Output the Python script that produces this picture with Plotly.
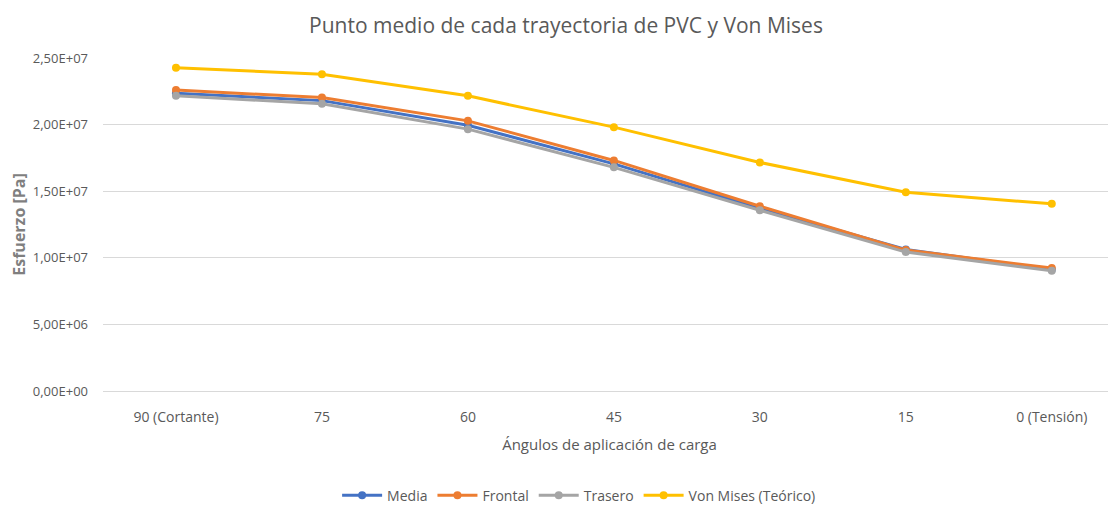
import plotly.graph_objects as go

# Categories (load angle) and stress values [Pa]
angulos = ["90 (Cortante)", "75", "60", "45", "30", "15", "0 (Tensión)"]
media = [22.35e6, 21.80e6, 19.95e6, 17.05e6, 13.72e6, 10.62e6, 9.12e6]
frontal = [22.60e6, 22.03e6, 20.28e6, 17.31e6, 13.87e6, 10.58e6, 9.23e6]
trasero = [22.16e6, 21.56e6, 19.66e6, 16.79e6, 13.57e6, 10.43e6, 9.03e6]
von_mises = [24.27e6, 23.78e6, 22.16e6, 19.81e6, 17.16e6, 14.92e6, 14.05e6]

y_ticks = [0, 5e6, 10e6, 15e6, 20e6, 25e6]
y_tick_labels = ["0,00E+00", "5,00E+06", "1,00E+07", "1,50E+07", "2,00E+07", "2,50E+07"]

series = [
    ("Media", media, "#4472C4"),
    ("Frontal", frontal, "#ED7D31"),
    ("Trasero", trasero, "#A5A5A5"),
    ("Von Mises (Teórico)", von_mises, "#FFC000"),
]

fig = go.Figure()
for name, vals, color in series:
    fig.add_trace(go.Scatter(x=angulos,
                             y=vals,
                             mode='lines+markers',
                             name=name,
                             line=dict(color=color, width=3),
                             marker=dict(color=color, size=8)))

# the page body adds an 8px offset, so margins are trimmed by 8px
font_family = "Open Sans, Liberation Sans, sans-serif"
fig.update_layout(
    width=1116, height=510,
    paper_bgcolor="white", plot_bgcolor="white",
    margin=dict(l=95, r=8, t=50, b=126),
    font=dict(family=font_family, color="#595959", size=13),
    title=dict(text="Punto medio de cada trayectoria de PVC y Von Mises",
               x=0.5, xanchor="center", y=0.966, yanchor="middle",
               font=dict(size=21, color="#595959")),
    xaxis=dict(
        title=dict(text="Ángulos de aplicación de carga", font=dict(size=15), standoff=14),
        range=[-0.5, 6.44], automargin=False,
        showgrid=False, showline=True, linecolor="#D9D9D9", linewidth=1,
        tickfont=dict(size=14), ticks="", ticklabelstandoff=13,
    ),
    yaxis=dict(
        title=dict(text="<b>Esfuerzo [Pa]</b>", font=dict(size=16, color="#7F7F7F"), standoff=12),
        range=[0, 2.5e7], tickvals=y_ticks, ticktext=y_tick_labels, automargin=False,
        showgrid=True, gridcolor="#D9D9D9", gridwidth=1, zeroline=False,
        tickfont=dict(size=13), ticks="", ticklabelstandoff=14,
    ),
    legend=dict(orientation="h", xanchor="center", x=0.47, yanchor="middle", y=-0.31,
                font=dict(size=14), itemwidth=40, tracegroupgap=0),
    showlegend=True,
)

fig.write_html("out.html")
